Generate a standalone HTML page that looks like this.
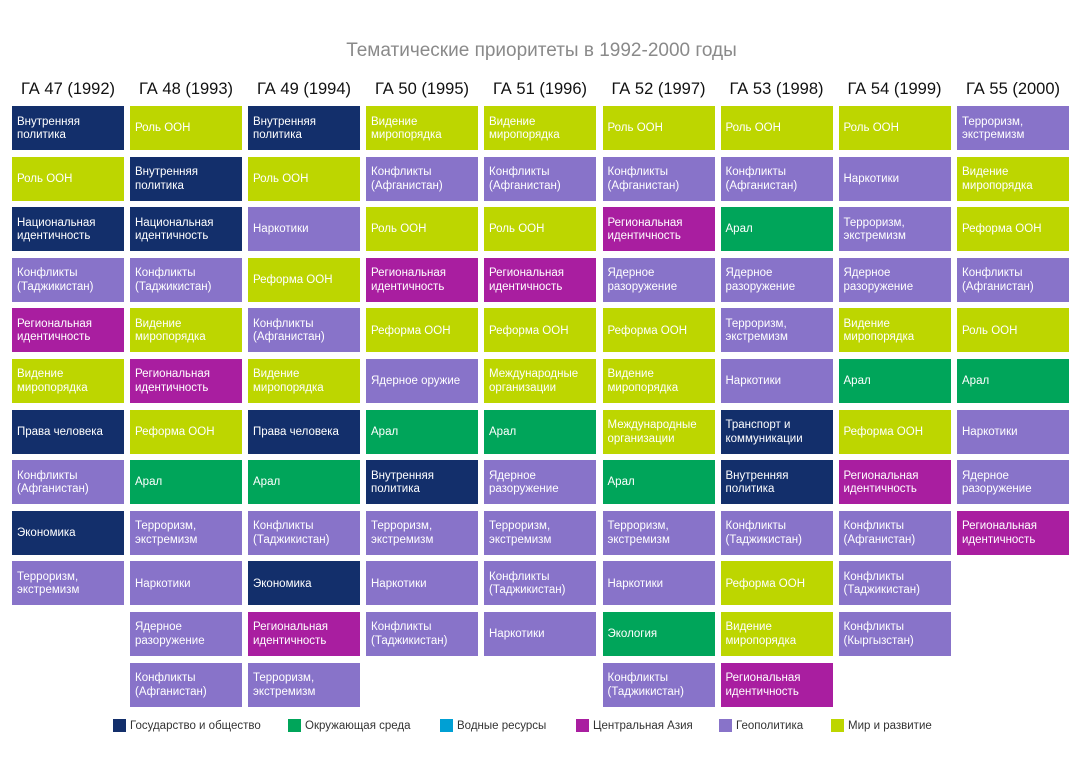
<!DOCTYPE html>
<html><head><meta charset="utf-8"><style>
body{margin:0;width:1083px;height:778px;background:#fff;font-family:"Liberation Sans",sans-serif;position:relative;overflow:hidden}
.t{position:absolute;top:40px;left:0;width:1083px;text-align:center;font-size:19px;color:#8a8a8a}
.col{position:absolute;top:78px;width:112px}
.h{height:28px;line-height:22px;font-size:16.5px;color:#111;text-align:center;white-space:nowrap}
.b{height:44px;margin-bottom:6.6px;color:#fff;font-size:11.5px;line-height:13.5px;padding-left:5px;padding-top:2px;box-sizing:border-box;display:flex;align-items:center}
.N{background:#132f6b}.L{background:#bdd600}.P{background:#8873c9}.M{background:#a91ea0}.G{background:#00a55a}
.lg{position:absolute;top:719px;font-size:11.5px;color:#333;display:flex;align-items:center}
.lg i{display:inline-block;width:13px;height:13px;margin-right:4px}
</style></head><body>
<div class="t">Тематические приоритеты в 1992-2000 годы</div>

<div class="col" style="left:12px"><div class="h">ГА 47 (1992)</div>
<div class="b N">Внутренняя<br>политика</div><div class="b L">Роль ООН</div><div class="b N">Национальная<br>идентичность</div><div class="b P">Конфликты<br>(Таджикистан)</div><div class="b M">Региональная<br>идентичность</div><div class="b L">Видение<br>миропорядка</div><div class="b N">Права человека</div><div class="b P">Конфликты<br>(Афганистан)</div><div class="b N">Экономика</div><div class="b P">Терроризм,<br>экстремизм</div></div>

<div class="col" style="left:130px"><div class="h">ГА 48 (1993)</div>
<div class="b L">Роль ООН</div><div class="b N">Внутренняя<br>политика</div><div class="b N">Национальная<br>идентичность</div><div class="b P">Конфликты<br>(Таджикистан)</div><div class="b L">Видение<br>миропорядка</div><div class="b M">Региональная<br>идентичность</div><div class="b L">Реформа ООН</div><div class="b G">Арал</div><div class="b P">Терроризм,<br>экстремизм</div><div class="b P">Наркотики</div><div class="b P">Ядерное<br>разоружение</div><div class="b P">Конфликты<br>(Афганистан)</div></div>

<div class="col" style="left:248px"><div class="h">ГА 49 (1994)</div>
<div class="b N">Внутренняя<br>политика</div><div class="b L">Роль ООН</div><div class="b P">Наркотики</div><div class="b L">Реформа ООН</div><div class="b P">Конфликты<br>(Афганистан)</div><div class="b L">Видение<br>миропорядка</div><div class="b N">Права человека</div><div class="b G">Арал</div><div class="b P">Конфликты<br>(Таджикистан)</div><div class="b N">Экономика</div><div class="b M">Региональная<br>идентичность</div><div class="b P">Терроризм,<br>экстремизм</div></div>

<div class="col" style="left:366px"><div class="h">ГА 50 (1995)</div>
<div class="b L">Видение<br>миропорядка</div><div class="b P">Конфликты<br>(Афганистан)</div><div class="b L">Роль ООН</div><div class="b M">Региональная<br>идентичность</div><div class="b L">Реформа ООН</div><div class="b P">Ядерное оружие</div><div class="b G">Арал</div><div class="b N">Внутренняя<br>политика</div><div class="b P">Терроризм,<br>экстремизм</div><div class="b P">Наркотики</div><div class="b P">Конфликты<br>(Таджикистан)</div></div>

<div class="col" style="left:484px"><div class="h">ГА 51 (1996)</div>
<div class="b L">Видение<br>миропорядка</div><div class="b P">Конфликты<br>(Афганистан)</div><div class="b L">Роль ООН</div><div class="b M">Региональная<br>идентичность</div><div class="b L">Реформа ООН</div><div class="b L">Международные<br>организации</div><div class="b G">Арал</div><div class="b P">Ядерное<br>разоружение</div><div class="b P">Терроризм,<br>экстремизм</div><div class="b P">Конфликты<br>(Таджикистан)</div><div class="b P">Наркотики</div></div>

<div class="col" style="left:602.5px"><div class="h">ГА 52 (1997)</div>
<div class="b L">Роль ООН</div><div class="b P">Конфликты<br>(Афганистан)</div><div class="b M">Региональная<br>идентичность</div><div class="b P">Ядерное<br>разоружение</div><div class="b L">Реформа ООН</div><div class="b L">Видение<br>миропорядка</div><div class="b L">Международные<br>организации</div><div class="b G">Арал</div><div class="b P">Терроризм,<br>экстремизм</div><div class="b P">Наркотики</div><div class="b G">Экология</div><div class="b P">Конфликты<br>(Таджикистан)</div></div>

<div class="col" style="left:720.5px"><div class="h">ГА 53 (1998)</div>
<div class="b L">Роль ООН</div><div class="b P">Конфликты<br>(Афганистан)</div><div class="b G">Арал</div><div class="b P">Ядерное<br>разоружение</div><div class="b P">Терроризм,<br>экстремизм</div><div class="b P">Наркотики</div><div class="b N">Транспорт и<br>коммуникации</div><div class="b N">Внутренняя<br>политика</div><div class="b P">Конфликты<br>(Таджикистан)</div><div class="b L">Реформа ООН</div><div class="b L">Видение<br>миропорядка</div><div class="b M">Региональная<br>идентичность</div></div>

<div class="col" style="left:838.5px"><div class="h">ГА 54 (1999)</div>
<div class="b L">Роль ООН</div><div class="b P">Наркотики</div><div class="b P">Терроризм,<br>экстремизм</div><div class="b P">Ядерное<br>разоружение</div><div class="b L">Видение<br>миропорядка</div><div class="b G">Арал</div><div class="b L">Реформа ООН</div><div class="b M">Региональная<br>идентичность</div><div class="b P">Конфликты<br>(Афганистан)</div><div class="b P">Конфликты<br>(Таджикистан)</div><div class="b P">Конфликты<br>(Кыргызстан)</div></div>

<div class="col" style="left:957px"><div class="h">ГА 55 (2000)</div>
<div class="b P">Терроризм,<br>экстремизм</div><div class="b L">Видение<br>миропорядка</div><div class="b L">Реформа ООН</div><div class="b P">Конфликты<br>(Афганистан)</div><div class="b L">Роль ООН</div><div class="b G">Арал</div><div class="b P">Наркотики</div><div class="b P">Ядерное<br>разоружение</div><div class="b M">Региональная<br>идентичность</div></div>

<div class="lg" style="left:113px"><i style="background:#132f6b"></i>Государство и общество</div>
<div class="lg" style="left:288px"><i style="background:#00a55a"></i>Окружающая среда</div>
<div class="lg" style="left:440px"><i style="background:#00a0d4"></i>Водные ресурсы</div>
<div class="lg" style="left:576px"><i style="background:#a91ea0"></i>Центральная Азия</div>
<div class="lg" style="left:719px"><i style="background:#8873c9"></i>Геополитика</div>
<div class="lg" style="left:831px"><i style="background:#bdd600"></i>Мир и развитие</div>
</body></html>
